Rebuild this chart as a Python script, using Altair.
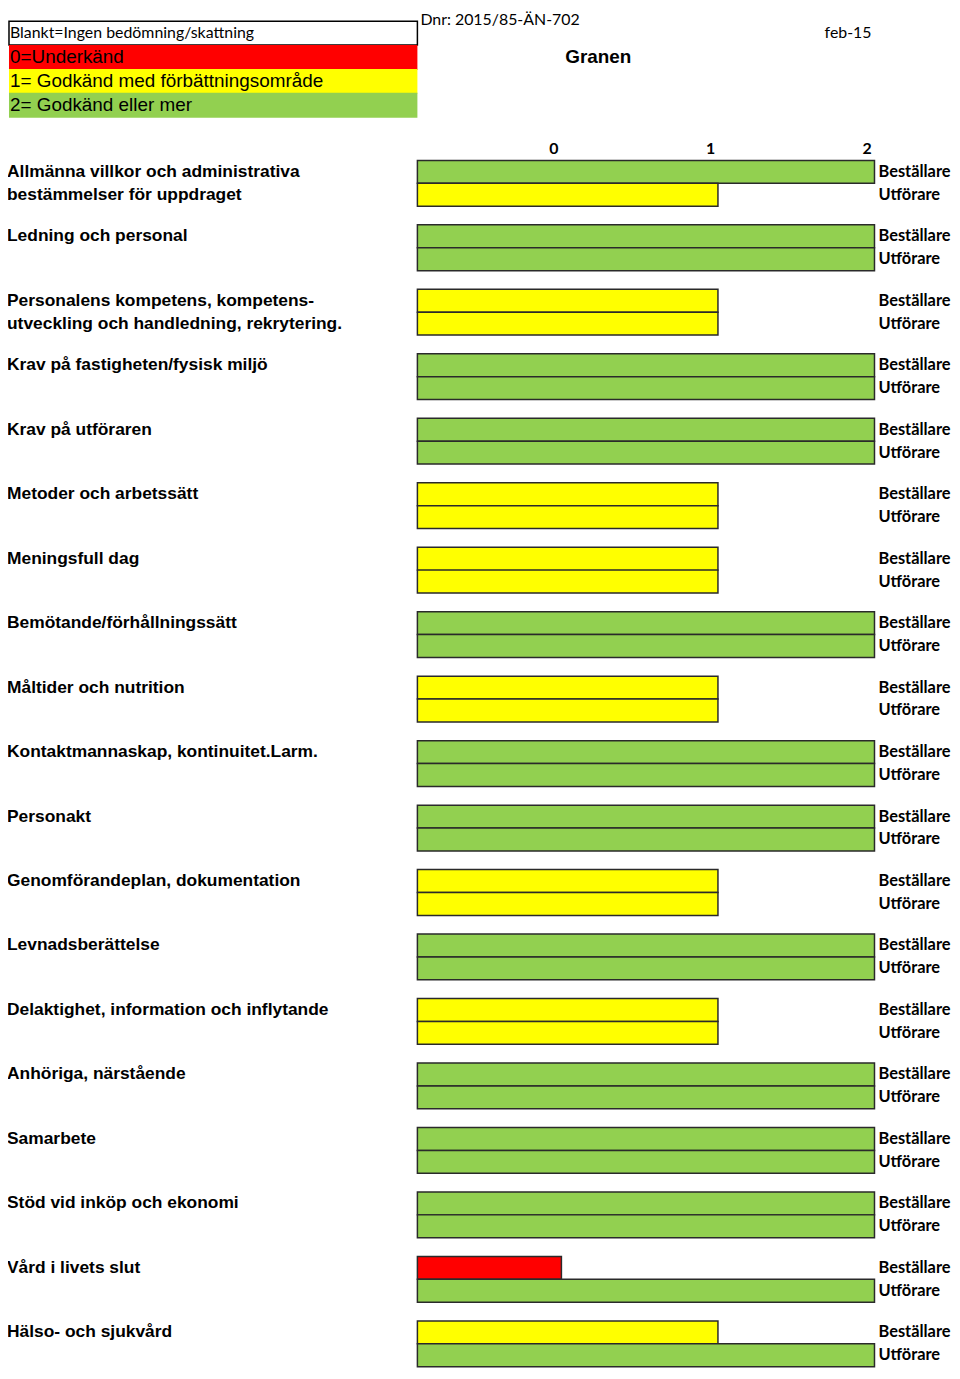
import altair as alt
import pandas as pd

# ---------------- data ----------------
categories = [
    "Allmänna villkor och administrativa\nbestämmelser för uppdraget",
    "Ledning och personal",
    "Personalens kompetens, kompetens-\nutveckling och handledning, rekrytering.",
    "Krav på fastigheten/fysisk miljö",
    "Krav på utföraren",
    "Metoder och arbetssätt",
    "Meningsfull dag",
    "Bemötande/förhållningssätt",
    "Måltider och nutrition",
    "Kontaktmannaskap, kontinuitet.Larm.",
    "Personakt",
    "Genomförandeplan, dokumentation",
    "Levnadsberättelse",
    "Delaktighet, information och inflytande",
    "Anhöriga, närstående",
    "Samarbete",
    "Stöd vid inköp och ekonomi",
    "Vård i livets slut",
    "Hälso- och sjukvård",
]
bestallare = [2, 2, 1, 2, 2, 1, 1, 2, 1, 2, 2, 1, 2, 1, 2, 2, 2, 0, 1]
utforare = [1, 2, 1, 2, 2, 1, 1, 2, 1, 2, 2, 1, 2, 1, 2, 2, 2, 2, 2]
roles = ["Beställare", "Utförare"]
tick_values = [0, 1, 2]
score_colors = ["#FF0000", "#FFFF00", "#92D050"]
legend_labels = [
    "Blankt=Ingen bedömning/skattning",
    "0=Underkänd",
    "1= Godkänd med förbättningsområde",
    "2= Godkänd eller mer",
]
legend_fills = ["#FFFFFF", "#FF0000", "#FFFF00", "#92D050"]
doc_number = "Dnr: 2015/85-ÄN-702"
unit_name = "Granen"
date_label = "feb-15"

# ---------------- tables ----------------
X_MIN = -0.92

rows = []
for cat, b, u in zip(categories, bestallare, utforare):
    rows.append({"cat": cat, "role": roles[0], "value": b})
    rows.append({"cat": cat, "role": roles[1], "value": u})
bars_df = pd.DataFrame(rows)

label_rows = []
for cat in categories:
    lines = cat.split("\n")
    for i, line in enumerate(lines):
        label_rows.append({"cat": cat, "role": roles[i], "line": line})
labels_df = pd.DataFrame(label_rows)

BOLD_SANS = "Liberation Sans"
CAL = "Lato"

y_enc = alt.Y("cat:N", sort=categories, axis=None,
              scale=alt.Scale(domain=categories, paddingInner=0.29, paddingOuter=0))
yoff_enc = alt.YOffset("role:N", sort=roles,
                       scale=alt.Scale(domain=roles, paddingInner=0, paddingOuter=0))

bars = alt.Chart(bars_df).mark_bar(stroke="#2a2a2a", strokeWidth=1.5).encode(
    x=alt.X("value:Q", stack=None,
            scale=alt.Scale(domain=[X_MIN, 2], nice=False, zero=False),
            axis=alt.Axis(orient="top", values=tick_values, format="d", title=None,
                          domain=False, ticks=False, grid=False, labelFlush=False,
                          labelFont=CAL, labelFontWeight="bold", labelFontSize=16,
                          labelColor="#000000", labelOffset=-8, labelPadding=4)),
    x2=alt.datum(X_MIN),
    y=y_enc,
    yOffset=yoff_enc,
    color=alt.Color("value:O", scale=alt.Scale(domain=tick_values, range=score_colors), legend=None),
)

cat_text = alt.Chart(labels_df).mark_text(
    align="left", baseline="middle", font=BOLD_SANS, fontWeight="bold", fontSize=17.5, color="#000000"
).encode(x=alt.value(-413), y=y_enc, yOffset=yoff_enc, text="line:N")

role_text = alt.Chart(bars_df).mark_text(
    align="left", baseline="middle", font=CAL, fontWeight="bold", fontSize=16.5, color="#000000"
).encode(x=alt.value(464), y=y_enc, yOffset=yoff_enc, text="role:N")

layers = [bars, cat_text, role_text]

# ---------------- header (legend boxes and titles) ----------------
box_top = -140
box_h = 24
for i, (lab, fill) in enumerate(zip(legend_labels, legend_fills)):
    df = pd.DataFrame({"t": [lab]})
    y0 = box_top + i * box_h
    layers.append(alt.Chart(df).mark_rect(
        fill=fill, stroke="#000000" if i == 0 else fill, strokeWidth=1.5 if i == 0 else 0
    ).encode(x=alt.value(-411), x2=alt.value(0), y=alt.value(y0),
             y2=alt.value(y0 + box_h + (0 if i == 0 else 1))))
    layers.append(alt.Chart(df).mark_text(
        align="left", baseline="middle",
        font=CAL if i == 0 else BOLD_SANS, fontSize=16 if i == 0 else 19, color="#000000"
    ).encode(x=alt.value(-410), y=alt.value(y0 + box_h / 2), text="t:N"))

layers.append(alt.Chart(pd.DataFrame({"t": [doc_number]})).mark_text(
    align="left", baseline="top", font=CAL, fontSize=16, color="#000000"
).encode(x=alt.value(3), y=alt.value(-149), text="t:N"))
layers.append(alt.Chart(pd.DataFrame({"t": [unit_name]})).mark_text(
    align="center", baseline="middle", font=BOLD_SANS, fontWeight="bold", fontSize=19, color="#000000"
).encode(x=alt.value(182), y=alt.value(-104), text="t:N"))
layers.append(alt.Chart(pd.DataFrame({"t": [date_label]})).mark_text(
    align="right", baseline="middle", font=CAL, fontSize=16, color="#000000"
).encode(x=alt.value(457), y=alt.value(-128), text="t:N"))

chart = alt.layer(*layers).properties(
    width=460,
    height=1214,
    padding={"left": 412, "top": 149, "right": 78, "bottom": 6},
    autosize=alt.AutoSizeParams(type="none"),
    background="#FFFFFF",
).configure_view(stroke=None)

chart.save("out.html", embed_options={"renderer": "svg", "actions": False})
